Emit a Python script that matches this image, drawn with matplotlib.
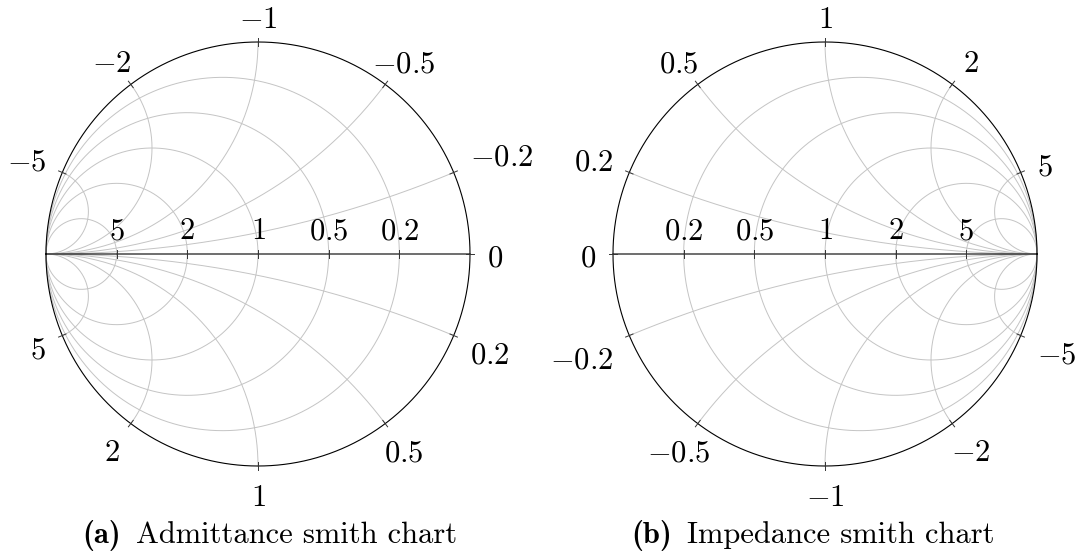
import numpy as np
import matplotlib
matplotlib.use('Agg')
import matplotlib.pyplot as plt

plt.rcParams['mathtext.fontset'] = 'cm'

# ---------------- data ----------------
resistance_values = [0.2, 0.5, 1, 2, 5]          # constant real-part circles / axis labels
reactance_values = [0.2, 0.5, 1, 2, 5]           # constant imaginary-part arcs (both signs)
outer_tick_values = [0, 0.2, 0.5, 1, 2, 5, -0.2, -0.5, -1, -2, -5]
chart_modes = ['admittance', 'impedance']
caption_tags = ['(a)', '(b)']
caption_texts = ['Admittance smith chart', 'Impedance smith chart']

# ---------------- layout / style ----------------
W, H, DPI = 1079, 556, 100
R_PX = 212
centers_px = [(258, 254), (825, 254)]
LIM = 1.5
FS = 22
EM_PX = FS * DPI / 72.0
DIGIT_H = 0.644 * EM_PX   # digit height of Computer Modern
GRID_C = '#c4c4c4'
GRID_LW = 0.7
LABEL_PAD_PX = 8      # node inner padding around label text
LABEL_GAP_PX = 9      # distance from circle to label node border
LABEL_DROP_PX = 3     # small global downward shift of outer labels
AXIS_LABEL_RISE_PX = 15
CAPTION_BASE_Y = 543
CAPTION_GAP_PX = 15

fig = plt.figure(figsize=(W / DPI, H / DPI), dpi=DPI)


def gamma(z, mode):
    g = (z - 1) / (z + 1)
    return -g if mode == 'admittance' else g


phi_full = np.linspace(-np.pi / 2 + 1e-7, np.pi / 2 - 1e-7, 3000)
phi_half = np.linspace(0, np.pi / 2 - 1e-7, 3000)

charts = []
for mode, (cx, cy), tag, cap in zip(chart_modes, centers_px, caption_tags, caption_texts):
    ax = fig.add_axes([(cx - LIM * R_PX) / W, (H - cy - LIM * R_PX) / H,
                       2 * LIM * R_PX / W, 2 * LIM * R_PX / H])
    ax.set_xlim(-LIM, LIM)
    ax.set_ylim(-LIM, LIM)
    ax.axis('off')

    # constant real-part circles
    for v in resistance_values:
        g = gamma(v + 1j * np.tan(phi_full), mode)
        ax.plot(g.real, g.imag, color=GRID_C, lw=GRID_LW, zorder=1)
    # constant imaginary-part arcs
    for v in reactance_values:
        for s in (1, -1):
            g = gamma(np.tan(phi_half) + 1j * s * v, mode)
            ax.plot(g.real, g.imag, color=GRID_C, lw=GRID_LW, zorder=1)
    # real axis
    g = gamma(np.tan(phi_half) + 0j, mode)
    ax.plot(g.real, g.imag, color='black', lw=0.8, zorder=3)
    # outer circle
    g = gamma(1j * np.tan(phi_full), mode)
    ax.plot(g.real, g.imag, color='black', lw=0.8, zorder=3)

    # ticks + labels on real axis
    tk = 4.0 / R_PX
    for v in resistance_values:
        p = gamma(complex(v, 0), mode)
        ax.plot([p.real, p.real], [-tk, tk], color='#333333', lw=0.7, zorder=4)
        ax.annotate(f'${v:g}$', (p.real, 0), xytext=(0, AXIS_LABEL_RISE_PX * 72 / DPI),
                    textcoords='offset points', ha='center', va='baseline',
                    fontsize=FS, zorder=5)

    # ticks + labels on outer circle
    outer = []
    for v in outer_tick_values:
        p = gamma(complex(0, v), mode)
        u = p / abs(p)
        ax.plot([(1 - tk) * u.real, (1 + tk) * u.real], [(1 - tk) * u.imag, (1 + tk) * u.imag],
                color='#333333', lw=0.7, zorder=4)
        t = ax.text(u.real * 1.1, u.imag * 1.1, f'${v:g}$', ha='center', va='baseline',
                    fontsize=FS, zorder=5)
        outer.append((t, u))

    t1 = fig.text(0, (H - CAPTION_BASE_Y) / H, tag, family='cmb10', fontsize=FS,
                  ha='left', va='baseline')
    t2 = fig.text(0, (H - CAPTION_BASE_Y) / H, cap, family='cmr10', fontsize=FS,
                  ha='left', va='baseline')
    charts.append((ax, outer, t1, t2))

fig.canvas.draw()
renderer = fig.canvas.get_renderer()
for ax, outer, t1, t2 in charts:
    origin = ax.transData.transform((0, 0))
    scale = ax.transData.transform((1, 0))[0] - origin[0]
    for t, u in outer:
        bb = t.get_window_extent(renderer)
        hw = bb.width / 2 + LABEL_PAD_PX
        hh = DIGIT_H / 2 + LABEL_PAD_PX
        c = []
        if abs(u.real) > 1e-9:
            c.append(hw / abs(u.real))
        if abs(u.imag) > 1e-9:
            c.append(hh / abs(u.imag))
        b = min(c)
        dist = scale + LABEL_GAP_PX + b
        px = origin[0] + u.real * dist
        py = origin[1] + u.imag * dist - DIGIT_H / 2 - LABEL_DROP_PX
        t.set_position(ax.transData.inverted().transform((px, py)))

fig.canvas.draw()
for ax, outer, t1, t2 in charts:
    xs = []
    for t, u in outer:
        bb = t.get_window_extent(renderer)
        xs += [bb.x0, bb.x1]
    center = (min(xs) + max(xs)) / 2
    w1 = t1.get_window_extent(renderer).width
    w2 = t2.get_window_extent(renderer).width
    total = w1 + CAPTION_GAP_PX + w2
    x0 = center - total / 2
    t1.set_x(x0 / W)
    t2.set_x((x0 + w1 + CAPTION_GAP_PX) / W)

fig.savefig('out.png', dpi=DPI)
